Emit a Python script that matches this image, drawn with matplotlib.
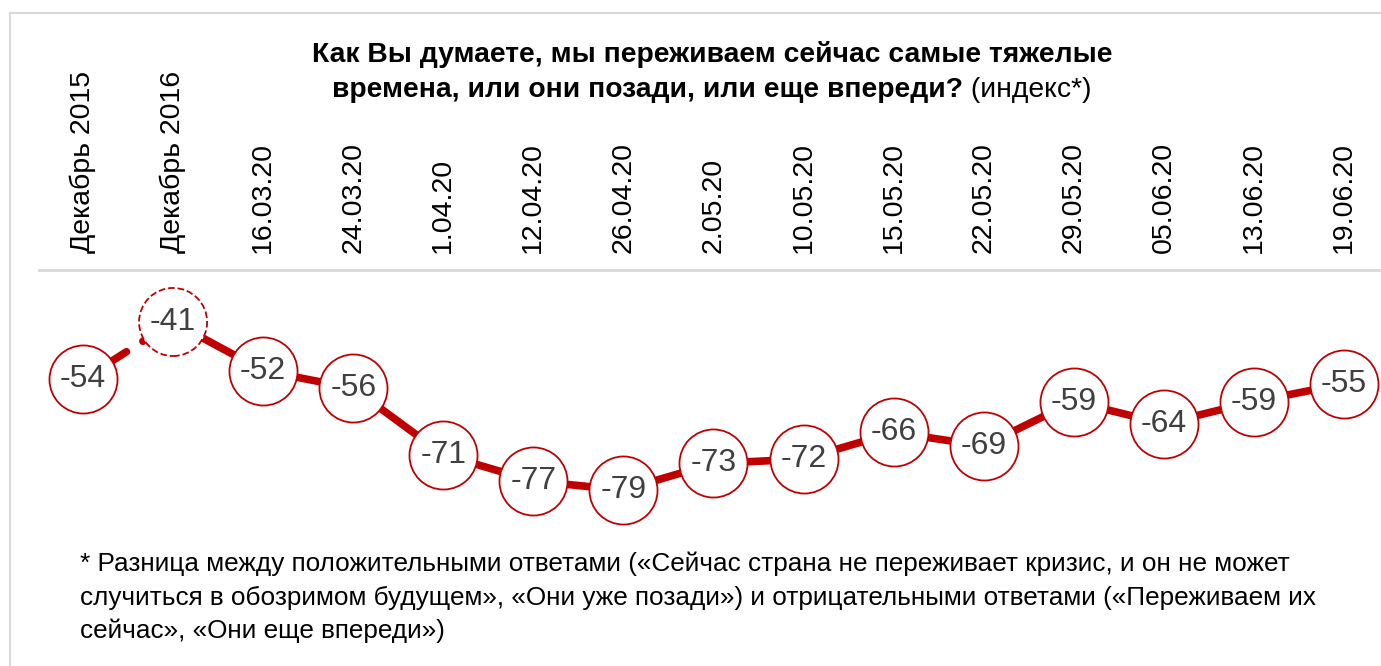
import matplotlib
matplotlib.use("Agg")
import matplotlib.pyplot as plt
import matplotlib.transforms as mtrans
from matplotlib.patches import Rectangle
from matplotlib.lines import Line2D

labels = ["Декабрь 2015", "Декабрь 2016", "16.03.20", "24.03.20", "1.04.20",
          "12.04.20", "26.04.20", "2.05.20", "10.05.20", "15.05.20",
          "22.05.20", "29.05.20", "05.06.20", "13.06.20", "19.06.20"]
values = [-54, -41, -52, -56, -71, -77, -79, -73, -72, -66, -69, -59, -64, -59, -55]

RED = "#C00000"
GREY_TXT = "#404040"
NARROW = ["Liberation Sans Narrow", "Liberation Sans", "DejaVu Sans"]
ARIAL = ["Liberation Sans", "DejaVu Sans"]

W, H = 1381, 666
fig = plt.figure(figsize=(W / 100, H / 100), dpi=100)
ax = fig.add_axes([0, 0, 1, 1])
ax.set_axis_off()

# pixel mapping
dx = 90.07
x0 = 83
ax.set_xlim(-x0 / dx, (W - x0) / dx)
ppu = 4.42
ax.set_ylim(-41 - (H - 322) / ppu, -41 + 322 / ppu)

n = len(values)
xs = list(range(n))

# border
fig.patches.append(Rectangle((10 / W, -0.01), 1.1, (H - 13) / H + 0.01, transform=fig.transFigure,
                             fill=False, edgecolor="#D9D9D9", linewidth=1.5))
# separator line
fig.lines.append(Line2D([39 / W, 1.0], [(H - 270) / H] * 2, transform=fig.transFigure,
                        color="#D9D9D9", linewidth=2))

LW = 5.5
# first segment (broken line to an older survey)
ax.plot(xs[0:2], values[0:2], color=RED, linewidth=LW, dash_capstyle="round",
        linestyle=(0, (6.75, 2.55, 0.02, 40)), zorder=2)
# main line
ax.plot(xs[1:], values[1:], color=RED, linewidth=LW, solid_capstyle="butt", zorder=2)

# circles
for i, (x, v) in enumerate(zip(xs, values)):
    ls = "--" if i == 1 else "-"
    ax.scatter([x], [v], s=49 ** 2, facecolor="white", edgecolor=RED,
               linewidths=1.3, linestyle=ls, zorder=3)
    ax.text(x, v, f"{v}", ha="center", va="center", fontsize=23,
            color=GREY_TXT, family=ARIAL, zorder=4)

# rotated category labels
trans = mtrans.blended_transform_factory(ax.transData, fig.transFigure)
for x, lab in zip(xs, labels):
    ax.text(x, (H - 253) / H, lab, rotation=90, ha="center", va="bottom",
            fontsize=20.5, family=ARIAL, color="black", transform=trans)

# title
TS = 20.3
fig.text(712 / W, (H - 55) / H, "Как Вы думаете, мы переживаем сейчас самые тяжелые",
         ha="center", va="center", fontsize=TS, fontweight="bold", family=NARROW)
t1 = fig.text(0, 0, "времена, или они позади, или еще впереди?", fontsize=TS,
              fontweight="bold", family=NARROW)
t2 = fig.text(0, 0, " (индекс*)", fontsize=TS, family=NARROW)
fig.canvas.draw()
r = fig.canvas.get_renderer()
w1 = t1.get_window_extent(r).width
w2 = t2.get_window_extent(r).width
start = 712 - (w1 + w2) / 2
yb = (H - 90) / H
t1.set_position((start / W, yb)); t1.set_va("center")
t2.set_position(((start + w1) / W, yb)); t2.set_va("center")

# footnote
foot = ["* Разница между положительными ответами («Сейчас страна не переживает кризис, и он не может",
        "случиться в обозримом будущем», «Они уже позади») и отрицательными ответами («Переживаем их",
        "сейчас», «Они еще впереди»)"]
for k, line in enumerate(foot):
    fig.text(80 / W, (H - 564 - 33.5 * k) / H, line, ha="left", va="center",
             fontsize=18.8, family=NARROW, color="black")

fig.savefig("out.png", dpi=100)
